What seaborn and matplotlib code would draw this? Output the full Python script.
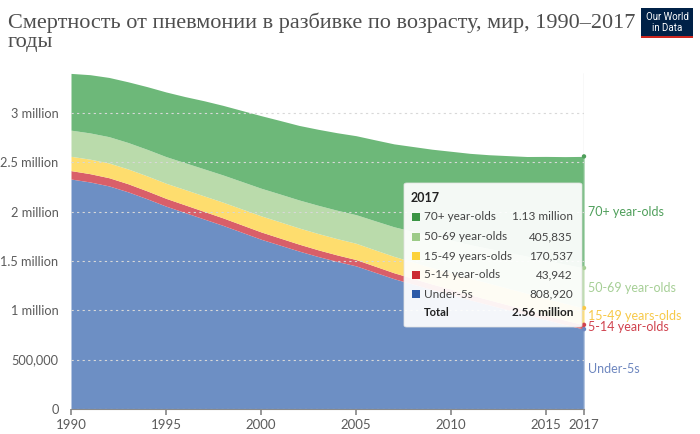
import matplotlib
matplotlib.use('Agg')
import matplotlib.pyplot as plt
import seaborn as sns
import pandas as pd
from matplotlib.patches import FancyBboxPatch, Rectangle
from matplotlib.ticker import FuncFormatter

# Данные (миллионы смертей), 1990-2017
years = list(range(1990, 2018))
under5 = [2.330, 2.300, 2.260, 2.200, 2.130, 2.055, 1.990, 1.925, 1.860, 1.790,
          1.720, 1.660, 1.600, 1.545, 1.495, 1.450, 1.385, 1.320, 1.265, 1.210,
          1.160, 1.105, 1.055, 1.005, 0.955, 0.905, 0.855, 0.808920]
age5_14 = [0.085, 0.084, 0.083, 0.082, 0.080, 0.079, 0.078, 0.077, 0.076, 0.075,
           0.074, 0.072, 0.070, 0.068, 0.066, 0.064, 0.062, 0.060, 0.058, 0.056,
           0.054, 0.053, 0.051, 0.050, 0.048, 0.047, 0.045, 0.043942]
age15_49 = [0.145, 0.147, 0.149, 0.150, 0.152, 0.153, 0.155, 0.157, 0.159, 0.161,
            0.163, 0.164, 0.164, 0.165, 0.165, 0.165, 0.165, 0.166, 0.166, 0.166,
            0.167, 0.167, 0.168, 0.168, 0.169, 0.169, 0.170, 0.170537]
age50_69 = [0.265, 0.266, 0.267, 0.268, 0.269, 0.270, 0.272, 0.274, 0.276, 0.278,
            0.280, 0.282, 0.284, 0.286, 0.288, 0.290, 0.295, 0.300, 0.310, 0.320,
            0.330, 0.340, 0.352, 0.364, 0.376, 0.388, 0.397, 0.405835]
age70 = [0.575, 0.590, 0.600, 0.615, 0.635, 0.655, 0.670, 0.690, 0.705, 0.720,
         0.735, 0.745, 0.755, 0.770, 0.785, 0.800, 0.820, 0.840, 0.860, 0.880,
         0.900, 0.925, 0.950, 0.980, 1.010, 1.050, 1.090, 1.130]

labels = ['Under-5s', '5-14 year-olds', '15-49 years-olds', '50-69 year-olds', '70+ year-olds']
fill_colors = ['#6d8fc4', '#d95f69', '#fedd6e', '#badbab', '#6db879']
text_colors = ['#6d86bf', '#d0434f', '#f7c948', '#a6cf96', '#4f9f5b']
key_colors = ['#2c5aa8', '#cc2a32', '#fcd23b', '#9ccb88', '#3a9444']
tip_values = ['808,920', '43,942', '170,537', '405,835', '1.13 million']

df = pd.DataFrame({'year': years, 'u5': under5, 'a5': age5_14, 'a15': age15_49,
                   'a50': age50_69, 'a70': age70})
series = [df[c] * 1e6 for c in ['u5', 'a5', 'a15', 'a50', 'a70']]

sns.set_theme(style='white')
plt.rcParams['font.family'] = ['Lato', 'DejaVu Sans']

W, H = 700, 434
fig = plt.figure(figsize=(7, 4.34), dpi=100)


def px(x, y):
    return x / W, 1 - y / H


ax = fig.add_axes([71 / W, 1 - 409 / H, (584 - 71) / W, (409 - 73.4) / H])
ax.stackplot(df['year'], *series, colors=fill_colors, linewidth=0)

ax.set_xlim(1990, 2017)
ax.set_ylim(0, 3.4e6)
ax.set_yticks([0, 0.5e6, 1e6, 1.5e6, 2e6, 2.5e6, 3e6])


def fmt(v, pos):
    if v == 0:
        return '0'
    if v < 1e6:
        return f'{int(v):,}'
    m = v / 1e6
    return (f'{m:g}') + ' million'


ax.yaxis.set_major_formatter(FuncFormatter(fmt))
ax.set_xticks([1990, 1995, 2000, 2005, 2010, 2015, 2017])
ax.tick_params(axis='both', labelsize=9.2, labelcolor='#5b5b5b')
ax.tick_params(axis='x', bottom=True, length=4, color='#8a8a8a', pad=3, labelsize=9.5)
ax.tick_params(axis='y', left=False, pad=3)
ax.yaxis.grid(True, linestyle=(0, (2, 3)), color='#d8d8d8', linewidth=0.8)
ax.set_axisbelow(False)
for s in ['top', 'right', 'left']:
    ax.spines[s].set_visible(False)
ax.spines['bottom'].set_color('#8a8a8a')
ax.spines['bottom'].set_linewidth(0.8)
ax.set_facecolor('none')

# вертикальная линия 2017 и точки
ax.axvline(2017, color='#dcdcdc', linewidth=1, zorder=3)
tops = []
acc = 0
for s in series:
    acc = acc + s.iloc[-1]
    tops.append(acc)
sns.scatterplot(x=[2017] * 5, y=tops, hue=labels, palette=dict(zip(labels, text_colors)),
                s=10, ax=ax, legend=False, zorder=4, edgecolor='none', clip_on=False)

# подписи справа (по середине каждой полосы)
bottom = 0
for s, lab, c in zip(series, labels, text_colors):
    mid = bottom + s.iloc[-1] / 2
    ax.text(2017.2, mid, lab, color=c, fontsize=9, va='center', ha='left', clip_on=False)
    bottom += s.iloc[-1]

# подсказка
bx0, by0, bx1, by1 = 404, 183, 582, 327
box = FancyBboxPatch(px(bx0, by1), (bx1 - bx0) / W, (by1 - by0) / H,
                     boxstyle='round,pad=0,rounding_size=0.004', transform=fig.transFigure,
                     facecolor='white', alpha=0.93, edgecolor='#e2e2e2', linewidth=0.6, zorder=10)
fig.patches.append(box)
fig.text(*px(411, 198), '2017', fontsize=9, fontweight='bold', color='#222222', va='center', zorder=11)
row_y = [294, 275, 256, 237, 217]
for y, lab, kc, v in zip(row_y, labels, key_colors, tip_values):
    fig.patches.append(Rectangle(px(411.5, y + 4), 8 / W, 8 / H, transform=fig.transFigure,
                                 facecolor=kc, edgecolor='none', zorder=11))
    fig.text(*px(424, y), lab, fontsize=8.5, color='#444444', va='center', zorder=11)
    fig.text(*px(573, y), v, fontsize=8.5, color='#444444', va='center', ha='right', zorder=11)
fig.text(*px(424, 313), 'Total', fontsize=8, fontweight='bold', color='#222222', va='center', zorder=11)
fig.text(*px(573, 313), '2.56 million', fontsize=8.5, fontweight='bold', color='#222222',
         va='center', ha='right', zorder=11)

# заголовок
fig.text(*px(8, 28), 'Смертность от пневмонии в разбивке по возрасту, мир, 1990–2017',
         family=['Liberation Serif', 'DejaVu Serif'], fontsize=16, color='#4e4e4e', va='baseline')
fig.text(*px(8, 47), 'годы', family=['Liberation Serif', 'DejaVu Serif'], fontsize=16,
         color='#4e4e4e', va='baseline')

# логотип
fig.patches.append(Rectangle(px(641, 38), 52 / W, 30 / H, transform=fig.transFigure,
                             facecolor='#002147', edgecolor='none'))
fig.patches.append(Rectangle(px(641, 38), 52 / W, 2.5 / H, transform=fig.transFigure,
                             facecolor='#ce261e', edgecolor='none'))
fig.text(*px(667, 17), 'Our World', fontsize=7, color='white', ha='center', va='center',
         family=['Roboto', 'DejaVu Sans'])
fig.text(*px(667, 28), 'in Data', fontsize=7, color='white', ha='center', va='center',
         family=['Roboto', 'DejaVu Sans'])

fig.savefig('out.png', dpi=100)
